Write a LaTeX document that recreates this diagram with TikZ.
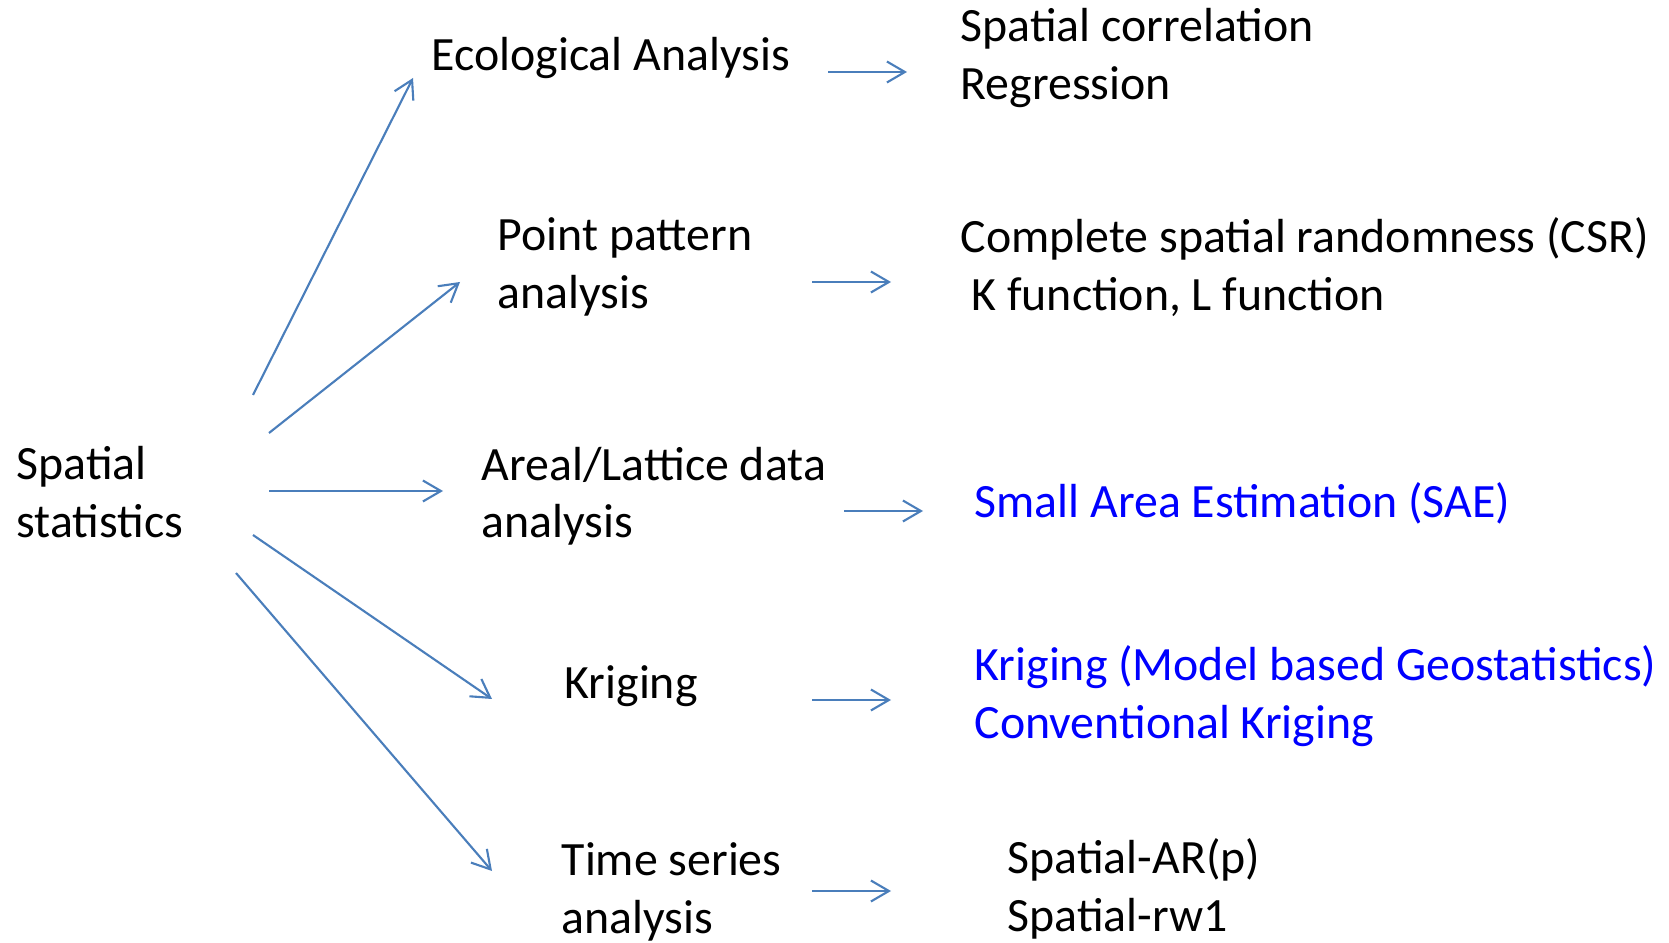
\documentclass[tikz,border=0pt]{standalone}
\usepackage{fontspec}
\setmainfont{Carlito}
\usetikzlibrary{arrows.meta}
\definecolor{arrowblue}{RGB}{74,126,187}
\definecolor{textblue}{RGB}{0,0,255}

\begin{document}
\begin{tikzpicture}[x=0.01cm, y=-0.01cm,
  lbl/.style={anchor=west, align=left, inner sep=0pt, font=\fontsize{13.6}{16.3}\selectfont},
  arr/.style={draw=arrowblue, line width=0.6pt, -{Straight Barb[length=1.8mm, width=2.1mm]}}]
\useasboundingbox (0,0) rectangle (1669,943);
% left and middle column
\node[lbl] (spatial) at (16,492) {Spatial\\statistics};
\node[lbl] (eco) at (431,58) {Ecological Analysis};
\node[lbl] (point) at (497,267) {Point pattern\\analysis};
\node[lbl] (areal) at (481,496) {Areal/Lattice data\\analysis};
\node[lbl] (krig) at (564,686) {Kriging};
\node[lbl] (time) at (561,892) {Time series\\analysis};
% right column
\node[lbl] (ecomethods) at (960,58) {Spatial correlation\\Regression};
\node[lbl] (pointmethods) at (960,267) {Complete spatial randomness (CSR)\\\ K function, L function};
\node[lbl, text=textblue] (arealmethods) at (974,503) {Small Area Estimation (SAE)};
\node[lbl, text=textblue] (krigmethods) at (974,696) {Kriging (Model based Geostatistics)\\Conventional Kriging};
\node[lbl] (timemethods) at (1007,889) {Spatial-AR(p)\\Spatial-rw1};
% arrow ends
\coordinate (s1) at (253,395); \coordinate (e1) at (413,78);
\coordinate (s2) at (269,433); \coordinate (e2) at (460,282);
\coordinate (s3) at (269,491); \coordinate (e3) at (443,491);
\coordinate (s4) at (253,535); \coordinate (e4) at (492,699);
\coordinate (s5) at (236,573); \coordinate (e5) at (492,871);
\draw[arr] (s1)--(e1);
\draw[arr] (s2)--(e2);
\draw[arr] (s3)--(e3);
\draw[arr] (s4)--(e4);
\draw[arr] (s5)--(e5);
\coordinate (ra) at (828,72); \coordinate (rb) at (812,282);
\coordinate (rc) at (844,511); \coordinate (rd) at (812,700);
\coordinate (re) at (812,891);
\foreach \c in {ra,rb,rc,rd,re} \draw[arr] (\c)--++(79,0);
\end{tikzpicture}
\end{document}
